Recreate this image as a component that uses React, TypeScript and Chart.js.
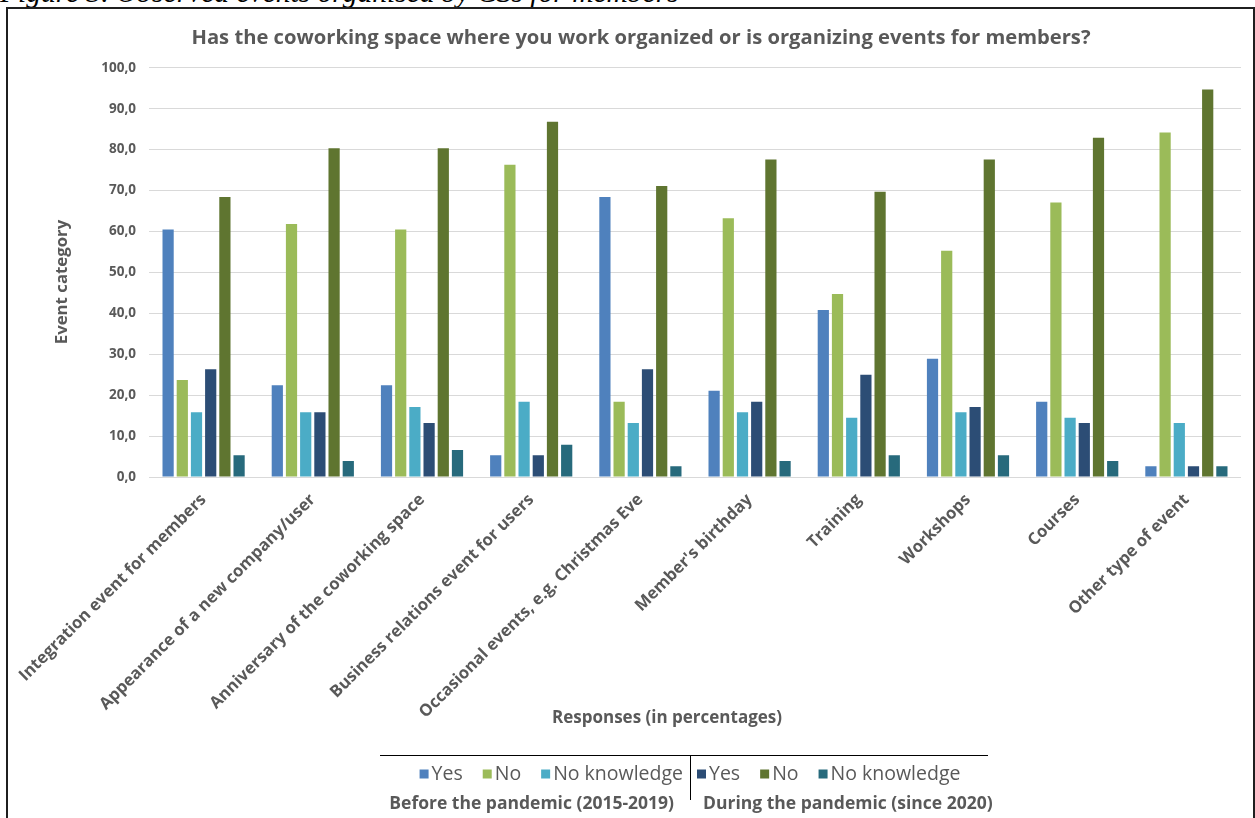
import React, { useEffect, useRef } from "react";
import { Chart, registerables } from "chart.js";

Chart.register(...registerables);

const chartTitle =
  "Has the coworking space where you work organized or is organizing events for members?";
const figureCaption = "Figure 3. Observed events organised by CSs for members";
const xAxisTitle = "Responses (in percentages)";
const yAxisTitle = "Event category";

const categories = [
  "Integration event for members",
  "Appearance of a new company/user",
  "Anniversary of the coworking space",
  "Business relations event for users",
  "Occasional events, e.g. Christmas Eve",
  "Member's birthday",
  "Training",
  "Workshops",
  "Courses",
  "Other type of event",
];

const beforeYes = [60.5, 22.4, 22.4, 5.3, 68.4, 21.1, 40.8, 28.9, 18.4, 2.6];
const beforeNo = [23.7, 61.8, 60.5, 76.3, 18.4, 63.2, 44.7, 55.3, 67.1, 84.2];
const beforeNoKnowledge = [15.8, 15.8, 17.1, 18.4, 13.2, 15.8, 14.5, 15.8, 14.5, 13.2];
const duringYes = [26.3, 15.8, 13.2, 5.3, 26.3, 18.4, 25.0, 17.1, 13.2, 2.6];
const duringNo = [68.4, 80.3, 80.3, 86.8, 71.1, 77.6, 69.7, 77.6, 82.9, 94.7];
const duringNoKnowledge = [5.3, 3.9, 6.6, 7.9, 2.6, 3.9, 5.3, 5.3, 3.9, 2.6];

const seriesLabels = ["Yes", "No", "No knowledge", "Yes", "No", "No knowledge"];
const groupLabels = ["Before the pandemic (2015-2019)", "During the pandemic (since 2020)"];
const yTickValues = [0, 10, 20, 30, 40, 50, 60, 70, 80, 90, 100];

const colors = ["#4F81BD", "#9BBB59", "#4BACC6", "#2C4D75", "#5F7530", "#276A7C"];
const TEXT = "#595959";
const FONT = "'Open Sans', 'Noto Sans', sans-serif";

const groupedLegend = {
  id: "groupedLegend",
  afterDraw(chart: any) {
    const ctx = chart.ctx;
    const ds = chart.data.datasets;
    const divider = 682;
    const lineY = 746;
    const itemY = 765;
    const groupY = 795;
    ctx.save();

    // axis titles
    ctx.font = `bold 17px ${FONT}`;
    ctx.fillStyle = TEXT;
    ctx.textAlign = "center";
    ctx.textBaseline = "middle";
    ctx.fillText(xAxisTitle, 659, 709);

    ctx.save();
    ctx.translate(54, 273);
    ctx.rotate(-Math.PI / 2);
    ctx.font = `bold 16.8px ${FONT}`;
    ctx.fillText(yAxisTitle, 0, 0);
    ctx.restore();

    ctx.strokeStyle = "#000000";
    ctx.lineWidth = 1;
    ctx.beginPath();
    ctx.moveTo(372, lineY + 0.5);
    ctx.lineTo(980, lineY + 0.5);
    ctx.moveTo(divider + 0.5, lineY);
    ctx.lineTo(divider + 0.5, 791);
    ctx.stroke();

    ctx.font = `19.5px ${FONT}`;
    const box = 9;
    const gapBoxText = 3;
    const gapItems = 20;
    const itemWidth = (i: number) => box + gapBoxText + ctx.measureText(ds[i].label).width;

    let total = 0;
    for (let i = 0; i < 3; i++) total += itemWidth(i) + (i < 2 ? gapItems : 0);
    let x = divider - 7 - total;
    for (let i = 0; i < 3; i++) {
      ctx.fillStyle = ds[i].backgroundColor;
      ctx.fillRect(x, itemY - box / 2, box, box);
      ctx.fillStyle = TEXT;
      ctx.textAlign = "left";
      ctx.fillText(ds[i].label, x + box + gapBoxText, itemY);
      x += itemWidth(i) + gapItems;
    }
    x = divider + 7;
    for (let i = 3; i < 6; i++) {
      ctx.fillStyle = ds[i].backgroundColor;
      ctx.fillRect(x, itemY - box / 2, box, box);
      ctx.fillStyle = TEXT;
      ctx.textAlign = "left";
      ctx.fillText(ds[i].label, x + box + gapBoxText, itemY);
      x += itemWidth(i) + gapItems;
    }

    ctx.font = `bold 17.5px ${FONT}`;
    ctx.fillStyle = TEXT;
    ctx.textAlign = "right";
    ctx.fillText(groupLabels[0], divider - 16, groupY);
    ctx.textAlign = "left";
    ctx.fillText(groupLabels[1], divider + 13, groupY);
    ctx.restore();
  },
};

export default function App() {
  const canvasRef = useRef<HTMLCanvasElement | null>(null);

  useEffect(() => {
    if (!canvasRef.current) return;
    const series = [beforeYes, beforeNo, beforeNoKnowledge, duringYes, duringNo, duringNoKnowledge];
    const chart = new Chart(canvasRef.current, {
      type: "bar",
      data: {
        labels: categories,
        datasets: series.map((data, i) => ({
          label: seriesLabels[i],
          data,
          backgroundColor: colors[i],
          borderWidth: 0,
          categoryPercentage: 0.78,
          barPercentage: 0.79,
        })),
      },
      options: {
        responsive: false,
        animation: false,
        layout: { padding: { left: 33, right: 12, top: 0, bottom: 79 } },
        plugins: {
          legend: { display: false },
          tooltip: { enabled: false },
          title: {
            display: true,
            text: chartTitle,
            color: TEXT,
            font: { family: FONT, size: 20.2, weight: "bold" },
            padding: { top: 17, bottom: 17.5 },
          },
        },
        scales: {
          x: {
            grid: { display: false },
            border: { display: false },
            ticks: {
              color: TEXT,
              font: { family: FONT, size: 16.6, weight: "bold" },
              minRotation: 45,
              maxRotation: 45,
              autoSkip: false,
              padding: 5,
            },
            afterFit: (s: any) => {
              s.height = 262;
              s.paddingLeft = 0;
              s.paddingRight = 0;
            },
          },
          y: {
            min: 0,
            max: 100,
            afterBuildTicks: (s: any) => {
              s.ticks = yTickValues.map((v) => ({ value: v }));
            },
            ticks: {
              color: TEXT,
              font: { family: FONT, size: 13.5, weight: "bold" },
              padding: 13,
              callback: (v: any) => Number(v).toFixed(1).replace(".", ","),
            },
            grid: { color: "#D9D9D9", drawTicks: false, lineWidth: 1 },
            border: { display: false },
            title: { display: false },
            afterFit: (s: any) => {
              s.width = 108;
            },
          },
        },
      },
      plugins: [groupedLegend],
    });
    return () => chart.destroy();
  }, []);

  return (
    <div
      style={{
        position: "fixed",
        left: 0,
        top: 0,
        width: 1255,
        height: 818,
        overflow: "hidden",
        background: "#ffffff",
      }}
    >
      <div
        style={{
          position: "absolute",
          left: 0,
          top: -24,
          fontFamily: "'Liberation Serif', 'Times New Roman', serif",
          fontStyle: "italic",
          fontSize: 29.5,
          lineHeight: "32px",
          whiteSpace: "nowrap",
          color: "#000",
        }}
      >
        {figureCaption}
      </div>
      <div
        style={{
          position: "absolute",
          left: 6,
          top: 7,
          width: 1249,
          height: 840,
          boxSizing: "border-box",
          border: "2px solid #1f1f1f",
          background: "#ffffff",
        }}
      />
      <canvas
        ref={canvasRef}
        width={1245}
        height={809}
        style={{ position: "absolute", left: 8, top: 9, display: "block" }}
      />
    </div>
  );
}
